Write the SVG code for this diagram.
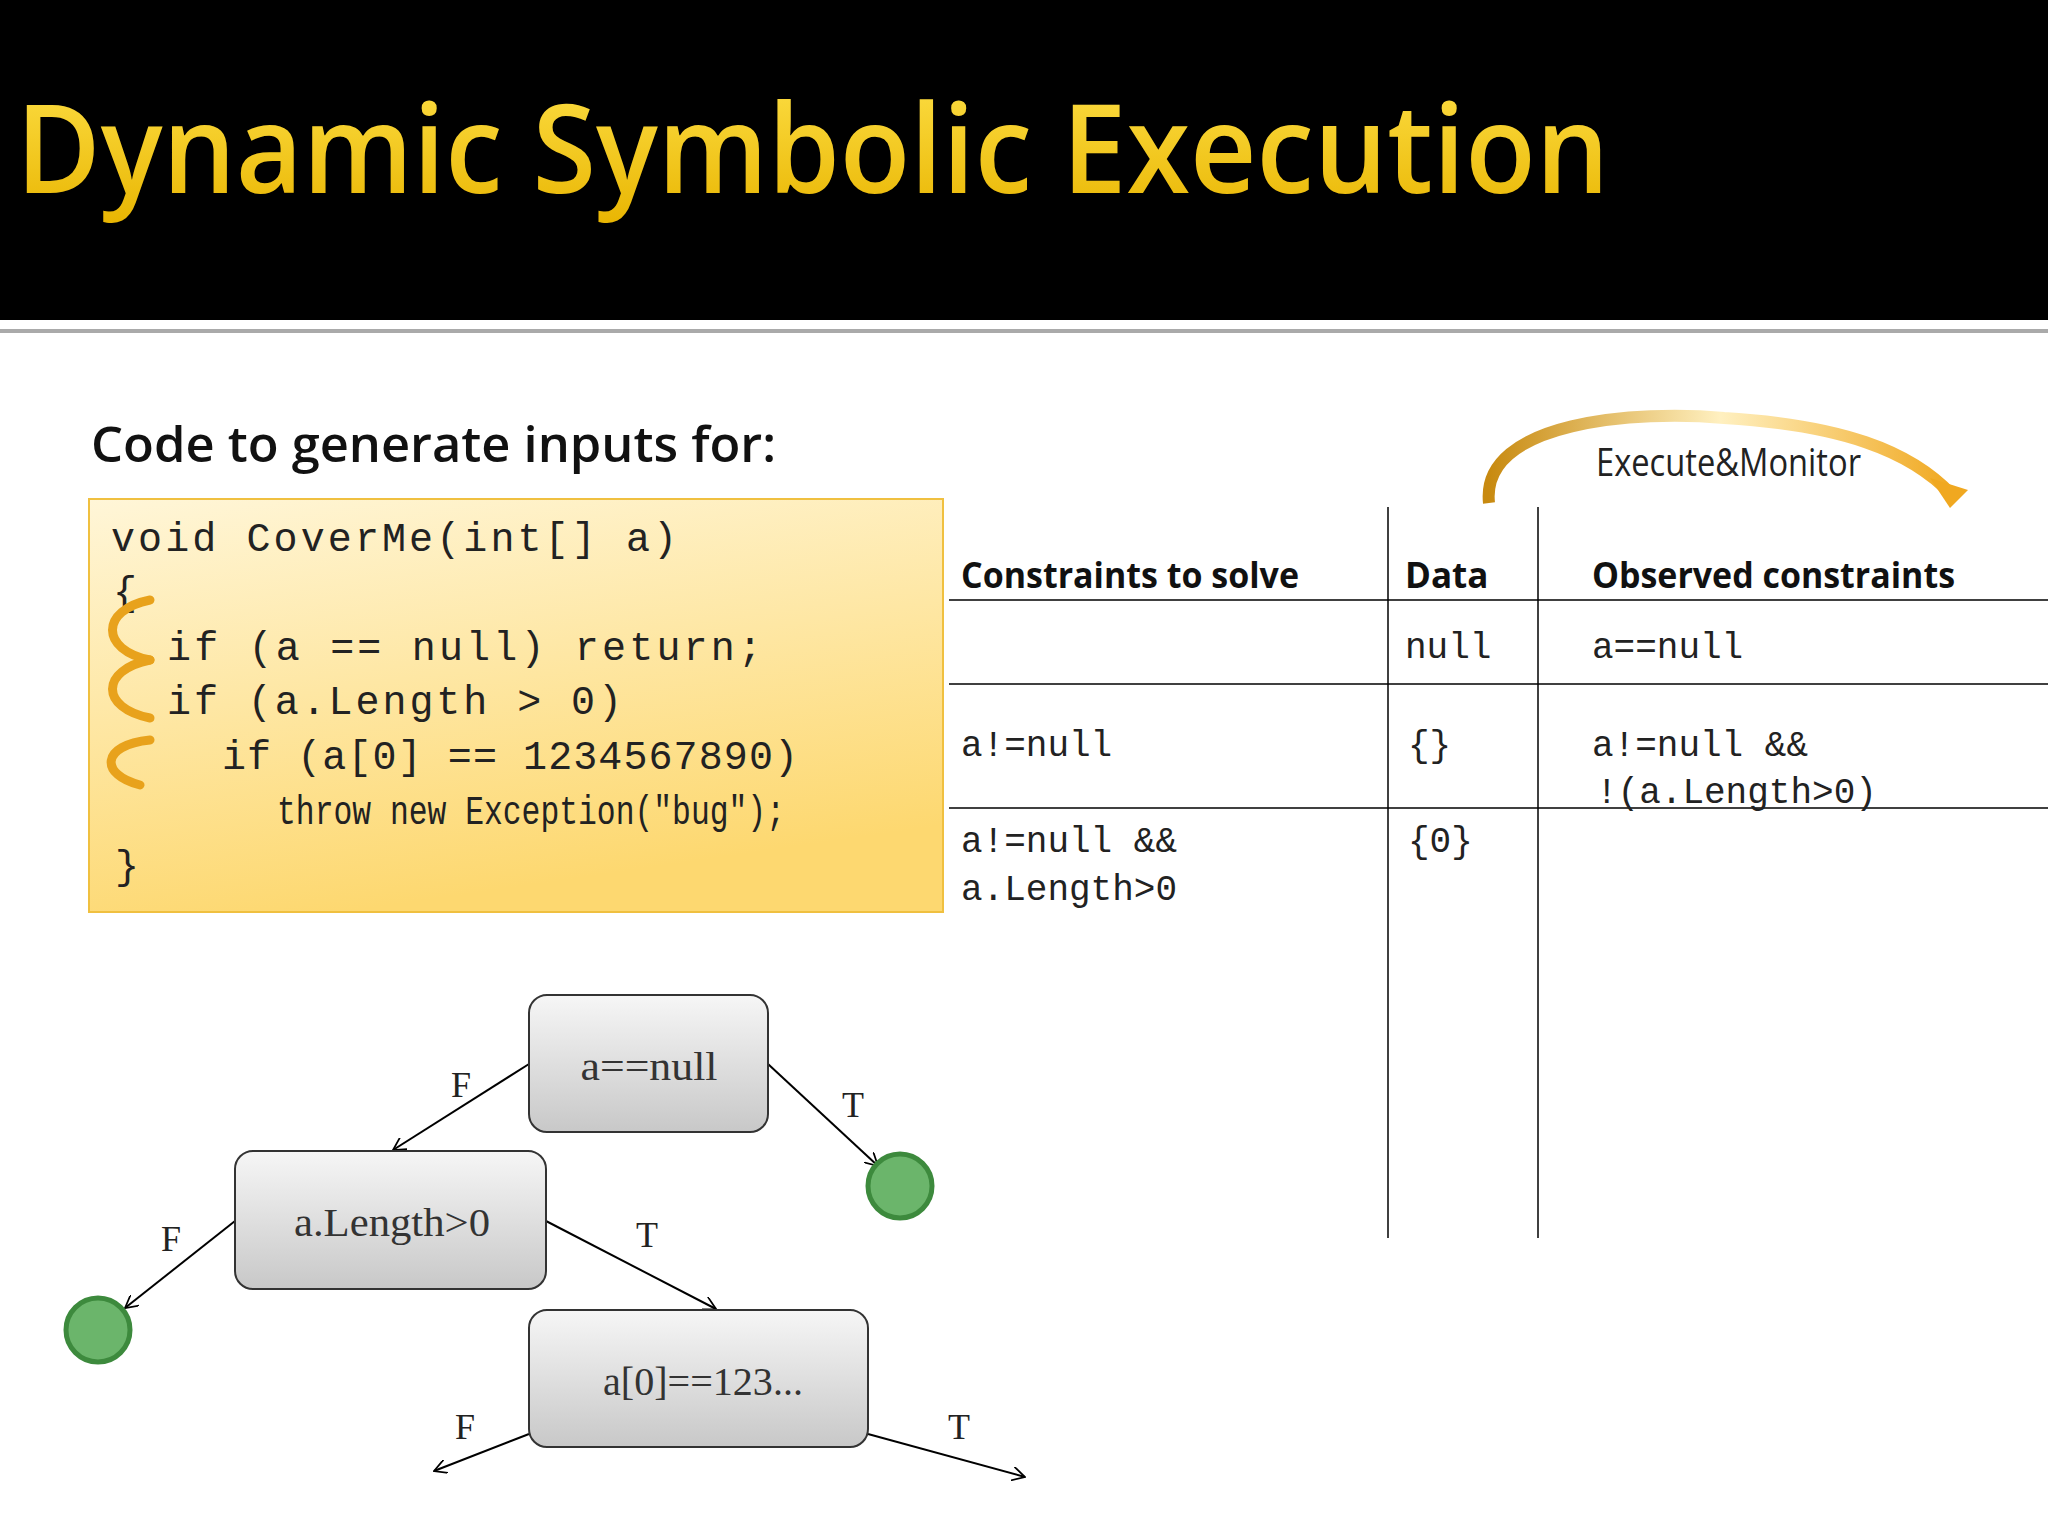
<svg xmlns="http://www.w3.org/2000/svg" width="2048" height="1536" viewBox="0 0 2048 1536">
<defs>
<linearGradient id="title" x1="0" y1="0" x2="0" y2="1"><stop offset="0" stop-color="#ffe24a"/><stop offset="1" stop-color="#e8b400"/></linearGradient>
<linearGradient id="code" x1="0" y1="0" x2="0.3" y2="1"><stop offset="0" stop-color="#fff6d8"/><stop offset="1" stop-color="#fdd870"/></linearGradient>
<linearGradient id="node" x1="0" y1="0" x2="0" y2="1"><stop offset="0" stop-color="#f6f6f6"/><stop offset="1" stop-color="#c8c8c8"/></linearGradient>
<linearGradient id="arc" x1="0" y1="0" x2="1" y2="0"><stop offset="0" stop-color="#c88a10"/><stop offset="0.5" stop-color="#fff0c0"/><stop offset="1" stop-color="#f0a820"/></linearGradient>
<marker id="ah" viewBox="0 0 12 12" refX="11" refY="6" markerWidth="14" markerHeight="14" markerUnits="userSpaceOnUse" orient="auto"><path d="M0,0 L11,6 L0,12" fill="none" stroke="#000" stroke-width="1.5"/></marker>
<style>
.mono{font-family:"Liberation Mono",monospace;fill:#222}
.hd{font-family:"Open Sans","Liberation Sans",sans-serif;font-weight:bold;font-size:35px;fill:#111}
.lbl{font-family:"Liberation Serif",serif;font-size:36px;fill:#222}
.nt{font-family:"Liberation Serif",serif;font-size:40px;fill:#333;text-anchor:middle}
.nd{fill:url(#node);stroke:#333;stroke-width:2}
.edge{stroke:#000;stroke-width:2;fill:none;marker-end:url(#ah)}
.tl{stroke:#000;stroke-width:1.5}
.leaf{fill:#6bb56b;stroke:#3d8a3d;stroke-width:5}
.curl{fill:none;stroke:#e8a21c;stroke-width:9;stroke-linecap:round}
</style>
</defs>
<rect x="0" y="0" width="2048" height="1536" fill="#fff"/>
<rect x="0" y="0" width="2048" height="320" fill="#000"/>
<rect x="0" y="329" width="2048" height="4" fill="#aaa"/>
<text x="16" y="193" font-family="Open Sans, Liberation Sans, sans-serif" font-weight="600" font-size="124" fill="url(#title)" textLength="1593" lengthAdjust="spacingAndGlyphs">Dynamic Symbolic Execution</text>
<text x="91" y="462" font-family="Open Sans, Liberation Sans, sans-serif" font-weight="600" font-size="48" fill="#111" textLength="685" lengthAdjust="spacingAndGlyphs">Code to generate inputs for:</text>
<g id="code-box">
<rect x="89" y="499" width="854" height="413" fill="url(#code)" stroke="#f0c040" stroke-width="2"/>
<text class="mono" font-size="40" x="111" y="551" textLength="566" lengthAdjust="spacing">void CoverMe(int[] a)</text>
<text class="mono" font-size="40" x="113" y="605">{</text>
<text class="mono" font-size="40" x="167" y="660" textLength="595" lengthAdjust="spacing">if (a == null) return;</text>
<text class="mono" font-size="40" x="167" y="714" textLength="455" lengthAdjust="spacing">if (a.Length &gt; 0)</text>
<text class="mono" font-size="40" x="222" y="769" textLength="576" lengthAdjust="spacing">if (a[0] == 1234567890)</text>
<text class="mono" font-size="40" x="277" y="824" textLength="508" lengthAdjust="spacingAndGlyphs">throw new Exception("bug");</text>
<text class="mono" font-size="40" x="115" y="879">}</text>
<path class="curl" d="M150,600 C100,610 100,650 150,660"/>
<path class="curl" d="M150,660 C100,670 100,708 150,718"/>
<path class="curl" d="M150,740 C100,745 100,775 140,785"/>
</g>
<g id="exec-monitor">
<path d="M1489,503 C1480,420 1640,410 1724,418 C1840,425 1910,450 1952,495" fill="none" stroke="url(#arc)" stroke-width="12"/>
<path d="M1930,478 L1968,490 L1950,508 Z" fill="#f0a820"/>
<text x="1596" y="476" font-family="Open Sans, Liberation Sans, sans-serif" font-size="38" fill="#222" textLength="265" lengthAdjust="spacingAndGlyphs">Execute&amp;Monitor</text>
</g>
<g id="table">
<line class="tl" x1="949" y1="600" x2="2048" y2="600"/>
<line class="tl" x1="949" y1="684" x2="2048" y2="684"/>
<line class="tl" x1="949" y1="808" x2="2048" y2="808"/>
<line class="tl" x1="1388" y1="507" x2="1388" y2="1238"/>
<line class="tl" x1="1538" y1="507" x2="1538" y2="1238"/>
<text class="hd" x="961" y="588" textLength="338" lengthAdjust="spacingAndGlyphs">Constraints to solve</text>
<text class="hd" x="1405" y="588">Data</text>
<text class="hd" x="1592" y="588" textLength="363" lengthAdjust="spacingAndGlyphs">Observed constraints</text>
<text class="mono" font-size="36" x="1405" y="658">null</text>
<text class="mono" font-size="36" x="1592" y="658">a==null</text>
<text class="mono" font-size="36" x="961" y="756">a!=null</text>
<text class="mono" font-size="36" x="1408" y="756">{}</text>
<text class="mono" font-size="36" x="1592" y="756">a!=null &amp;&amp;</text>
<text class="mono" font-size="36" x="1596" y="803">!(a.Length&gt;0)</text>
<text class="mono" font-size="36" x="961" y="852">a!=null &amp;&amp;</text>
<text class="mono" font-size="36" x="961" y="900">a.Length&gt;0</text>
<text class="mono" font-size="36" x="1408" y="852">{0}</text>
</g>
<g id="connectors">
<line class="edge" x1="529" y1="1064" x2="393" y2="1150"/>
<line class="edge" x1="768" y1="1064" x2="878" y2="1166"/>
<line class="edge" x1="235" y1="1221" x2="125" y2="1308"/>
<line class="edge" x1="546" y1="1221" x2="716" y2="1309"/>
<line class="edge" x1="529" y1="1434" x2="434" y2="1471"/>
<line class="edge" x1="868" y1="1434" x2="1025" y2="1477"/>
<text class="lbl" x="451" y="1097">F</text>
<text class="lbl" x="842" y="1117">T</text>
<text class="lbl" x="161" y="1251">F</text>
<text class="lbl" x="636" y="1247">T</text>
<text class="lbl" x="455" y="1439">F</text>
<text class="lbl" x="948" y="1439">T</text>
</g>
<g id="n-anull"><rect class="nd" x="529" y="995" width="239" height="137" rx="18"/><text class="nt" x="649" y="1080" textLength="137" lengthAdjust="spacingAndGlyphs">a==null</text></g>
<g id="n-alen"><rect class="nd" x="235" y="1151" width="311" height="138" rx="18"/><text class="nt" x="392" y="1236" textLength="196" lengthAdjust="spacingAndGlyphs">a.Length&gt;0</text></g>
<g id="n-a0"><rect class="nd" x="529" y="1310" width="339" height="137" rx="18"/><text class="nt" x="703" y="1395" textLength="200" lengthAdjust="spacingAndGlyphs">a[0]==123...</text></g>
<g id="leaf1"><circle class="leaf" cx="900" cy="1186" r="32"/></g>
<g id="leaf2"><circle class="leaf" cx="98" cy="1330" r="32"/></g>
</svg>
